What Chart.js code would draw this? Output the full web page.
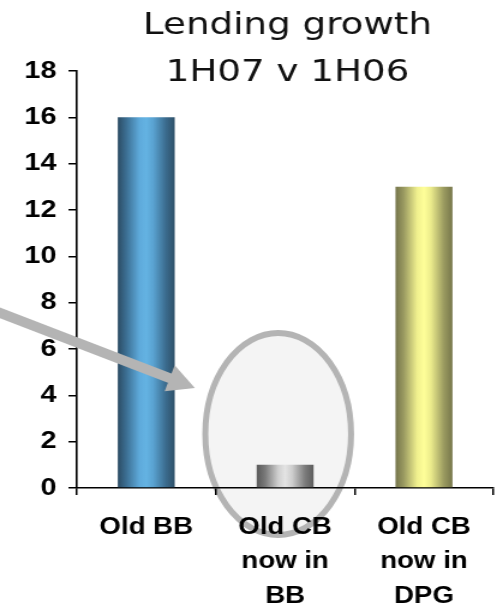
<!DOCTYPE html>
<html>
<head>
<meta charset="utf-8">
<script src="https://cdn.jsdelivr.net/npm/chart.js@4/dist/chart.umd.min.js"></script>
<style>
  html, body { margin: 0; padding: 0; background: #fff; overflow: hidden; }
  #chart { display: block; }
</style>
</head>
<body>
<!-- drawn at a narrower size and widened by CSS for the broad lettering -->
<canvas id="chart" width="414" height="607" style="width:497px;height:607px"></canvas>
<script>
// ---- data ----
const categories = [['Old BB'], ['Old CB', 'now in', 'BB'], ['Old CB', 'now in', 'DPG']];
const lendingGrowth = [16, 1, 13];
const yTickValues = [0, 2, 4, 6, 8, 10, 12, 14, 16, 18];
const titleLines = ['Lending growth', '1H07 v 1H06'];

// ---- look ----
const STRETCH = 497 / 414;          // horizontal widening applied by CSS
const BAR_PCT = 0.41;
const barShades = [
  ['#2c4c64', '#3c6f93', '#5eaadb', '#64b3e3', '#5aa3d2', '#3a6a8c', '#2f5169'],
  ['#585858', '#7a7a7a', '#d0d0d0', '#e4e4e4', '#cfcfcf', '#7c7c7c', '#5c5c5c'],
  ['#74744a', '#9c9c62', '#f0f08e', '#ffff99', '#ecec8c', '#9a9a60', '#77774b']
];
const shadeStops = [0, 0.15, 0.38, 0.5, 0.62, 0.85, 1];

// callout placement, in axis units (category index / value)
const callout = { cx: 0.95, cy: 2.33, rx: 0.525, ry: 4.36 };
const pointer = { fromY: 7.56, toX: 0.35, toY: 4.32 };

function barFill(ctx) {
  const chart = ctx.chart;
  const shades = barShades[ctx.dataIndex] || barShades[0];
  if (!chart.chartArea || ctx.type !== 'data') return shades[3];
  const xs = chart.scales.x;
  const cx = xs.getPixelForValue(ctx.dataIndex);
  const half = (xs.width / categories.length) * BAR_PCT / 2;
  const g = chart.ctx.createLinearGradient(cx - half, 0, cx + half, 0);
  shades.forEach((c, i) => g.addColorStop(shadeStops[i], c));
  return g;
}

// light ellipse behind the middle bar, pointer arrow and two-line heading
const calloutPlugin = {
  id: 'callout',
  beforeDraw(chart) {
    const { ctx, scales: { x, y } } = chart;
    const cx = x.getPixelForValue(callout.cx) * STRETCH;
    const cy = y.getPixelForValue(callout.cy);
    const rx = (x.getPixelForValue(callout.cx + callout.rx) - x.getPixelForValue(callout.cx)) * STRETCH;
    const ry = y.getPixelForValue(0) - y.getPixelForValue(callout.ry);
    ctx.save();
    ctx.scale(1 / STRETCH, 1);
    ctx.beginPath();
    ctx.ellipse(cx, cy, rx, ry, 0, 0, Math.PI * 2);
    ctx.fillStyle = '#f4f4f4';
    ctx.fill();
    ctx.lineWidth = 6;
    ctx.strokeStyle = '#b4b4b4';
    ctx.stroke();
    ctx.restore();
  },
  afterDatasetsDraw(chart) {
    const { ctx, scales: { x, y } } = chart;
    const sx = 0, sy = y.getPixelForValue(pointer.fromY);
    const tx = x.getPixelForValue(pointer.toX) * STRETCH, ty = y.getPixelForValue(pointer.toY);
    const len = Math.hypot(tx - sx, ty - sy);
    const dx = (tx - sx) / len, dy = (ty - sy) / len;
    const headLen = 27, headHalf = 14;
    const bx = tx - dx * headLen, by = ty - dy * headLen;
    ctx.save();
    ctx.scale(1 / STRETCH, 1);
    ctx.strokeStyle = '#b4b4b4';
    ctx.fillStyle = '#b4b4b4';
    ctx.lineWidth = 10;
    ctx.beginPath();
    ctx.moveTo(sx - 10, sy - dy / dx * 10);
    ctx.lineTo(bx + dx * 2, by + dy * 2);
    ctx.stroke();
    ctx.beginPath();
    ctx.moveTo(tx, ty);
    ctx.lineTo(bx - dy * headHalf, by + dx * headHalf);
    ctx.lineTo(bx + dy * headHalf, by - dx * headHalf);
    ctx.closePath();
    ctx.fill();
    ctx.restore();
  },
  afterDraw(chart) {
    const { ctx, chartArea } = chart;
    const cx = (chartArea.left + chartArea.right) / 2;
    ctx.save();
    ctx.fillStyle = '#111';
    ctx.font = '31px "DejaVu Sans", Verdana, sans-serif';
    ctx.textAlign = 'center';
    ctx.textBaseline = 'alphabetic';
    ctx.fillText(titleLines[0], cx + 2, 34);
    ctx.fillText(titleLines[1], cx + 2, 81);
    ctx.restore();
  }
};

new Chart(document.getElementById('chart'), {
  type: 'bar',
  data: {
    labels: categories,
    datasets: [{
      data: lendingGrowth,
      backgroundColor: barFill,
      borderWidth: 0,
      barPercentage: BAR_PCT,
      categoryPercentage: 1
    }]
  },
  options: {
    responsive: false,
    animation: false,
    events: [],
    layout: { padding: { left: 0, right: 3, top: 71, bottom: 0 } },
    plugins: { legend: { display: false }, title: { display: false }, tooltip: { enabled: false } },
    scales: {
      x: {
        grid: { display: true, drawOnChartArea: false, drawTicks: true, tickLength: 7, color: '#000', lineWidth: 1.5, offset: true },
        border: { display: true, color: '#000', width: 1.6 },
        ticks: {
          color: '#000',
          padding: 15,
          maxRotation: 0,
          autoSkip: false,
          font: { family: '"Liberation Sans", Arial, sans-serif', size: 23, weight: 'bold', lineHeight: 1.5 }
        },
        afterFit(scale) { scale.height = 119; }
      },
      y: {
        min: 0,
        max: 18,
        afterBuildTicks(scale) { scale.ticks = yTickValues.map(v => ({ value: v })); },
        grid: { display: true, drawOnChartArea: false, drawTicks: true, tickLength: 7, color: '#000', lineWidth: 1.5 },
        border: { display: true, color: '#000', width: 1.6 },
        ticks: {
          color: '#000',
          padding: 10,
          font: { family: '"Liberation Sans", Arial, sans-serif', size: 24, weight: 'bold' }
        },
        afterFit(scale) { scale.width = 64; }
      }
    }
  },
  plugins: [calloutPlugin]
});
</script>
</body>
</html>
